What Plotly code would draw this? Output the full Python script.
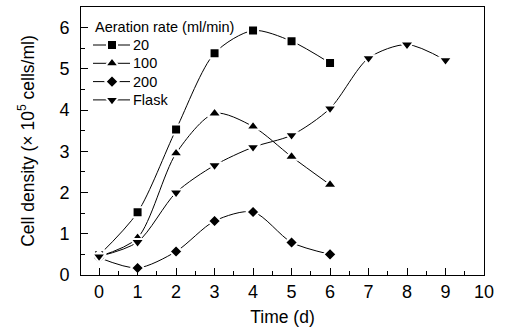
import plotly.graph_objects as go

time_20 = [0, 1, 2, 3, 4, 5, 6]
rate_20 = [0.48, 1.52, 3.53, 5.38, 5.93, 5.67, 5.14]
time_100 = [0, 1, 2, 3, 4, 5, 6]
rate_100 = [0.45, 0.90, 2.95, 3.92, 3.60, 2.87, 2.19]
time_200 = [0, 1, 2, 3, 4, 5, 6]
rate_200 = [0.42, 0.17, 0.57, 1.31, 1.53, 0.79, 0.50]
time_flask = [0, 1, 2, 3, 4, 5, 6, 7, 8, 9]
rate_flask = [0.45, 0.80, 2.00, 2.66, 3.10, 3.39, 4.04, 5.26, 5.59, 5.21]

legend_title = "Aeration rate (ml/min)"
series = [
    ("20", time_20, rate_20, "square", 10),
    ("100", time_100, rate_100, "triangle-up", 12),
    ("200", time_200, rate_200, "diamond", 10),
    ("Flask", time_flask, rate_flask, "triangle-down", 12),
]

FONT = "Liberation Sans, Arial, sans-serif"
L, R, T, B = 81, 21, 7, 60
W, H = 505, 335

fig = go.Figure()
for name, xs, ys, sym, sz in series:
    fig.add_trace(go.Scatter(
        x=xs, y=ys, name=name, mode="lines+markers", showlegend=False,
        line=dict(color="black", width=1, shape="spline", smoothing=0.8),
        marker=dict(symbol=sym, size=sz, color="black",
                    line=dict(color="white", width=2)),
    ))

# Custom legend drawn on an overlay axis measured in page pixels
leg_x0, leg_x1, leg_xm, leg_tx = 93, 130, 112, 131
row_y = [45, 63.3, 81.6, 99.9]
for (name, xs, ys, sym, sz), ry in zip(series, row_y):
    fig.add_trace(go.Scatter(
        x=[leg_x0, leg_x1], y=[ry, ry], mode="lines", showlegend=False,
        xaxis="x2", yaxis="y2", hoverinfo="skip",
        line=dict(color="black", width=1),
    ))
    fig.add_trace(go.Scatter(
        x=[leg_xm], y=[ry], mode="markers", showlegend=False,
        xaxis="x2", yaxis="y2", hoverinfo="skip",
        marker=dict(symbol=sym, size=sz, color="black",
                    line=dict(color="white", width=2)),
    ))
    fig.add_annotation(x=leg_tx, y=ry, xref="x2", yref="y2", text=name,
                       showarrow=False, xanchor="left", yanchor="middle",
                       font=dict(size=14.5, family=FONT, color="black"))
fig.add_annotation(x=93, y=27, xref="x2", yref="y2", text=legend_title,
                   showarrow=False, xanchor="left", yanchor="middle",
                   font=dict(size=14.5, family=FONT, color="black"))

fig.update_layout(
    width=W, height=H,
    margin=dict(l=L, r=R, t=T, b=B),
    paper_bgcolor="white", plot_bgcolor="white",
    font=dict(family=FONT, color="black", size=18),
    showlegend=False,
    xaxis=dict(
        range=[-0.47, 10], tickmode="linear", tick0=0, dtick=1,
        ticks="inside", ticklen=7, tickwidth=1, tickcolor="black",
        minor=dict(ticks="inside", ticklen=4, dtick=0.5, tick0=0, tickcolor="black"),
        showline=True, linecolor="black", linewidth=1, mirror=True,
        showgrid=False, zeroline=False,
        title=dict(text="Time (d)", font=dict(size=17.5), standoff=10),
        tickfont=dict(size=18),
    ),
    yaxis=dict(
        range=[0, 6.5], tickmode="linear", tick0=0, dtick=1,
        ticks="inside", ticklen=7, tickwidth=1, tickcolor="black",
        minor=dict(ticks="inside", ticklen=4, dtick=0.5, tick0=0, tickcolor="black"),
        showline=True, linecolor="black", linewidth=1, mirror=True,
        showgrid=False, zeroline=False,
        title=dict(text="Cell density (× 10<sup>5</sup> cells/ml)", font=dict(size=17.5), standoff=20),
        tickfont=dict(size=18), ticklabelstandoff=7,
    ),
    xaxis2=dict(overlaying="x", range=[L, W - R], visible=False, fixedrange=True),
    yaxis2=dict(overlaying="y", range=[H - B, T], visible=False, fixedrange=True),
)

fig.write_html("out.html")
